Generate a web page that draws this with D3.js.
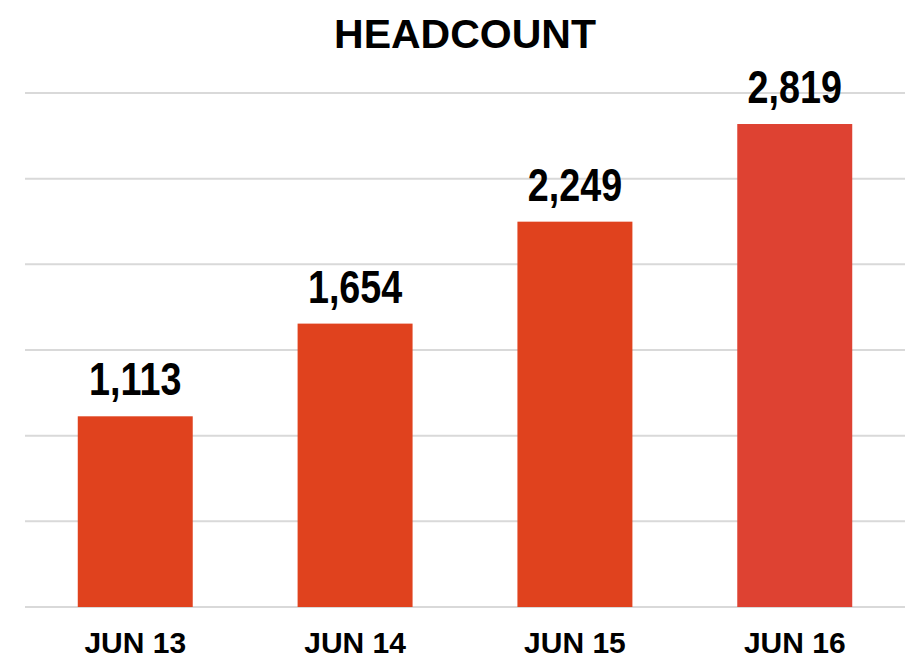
<!DOCTYPE html>
<html>
<head>
<meta charset="utf-8">
<script src="https://cdn.jsdelivr.net/npm/d3@7"></script>
<style>
  body { margin: 0; background: #fff; }
</style>
</head>
<body>
<div id="chart"></div>
<script>
const MARGIN = { LEFT: 25, RIGHT: 10, TOP: 93, BOTTOM: 52 };
const WIDTH = 915;
const HEIGHT = 659;

const days = ["JUN 13", "JUN 14", "JUN 15", "JUN 16"];
const headcount = [1113, 1654, 2249, 2819];
const barColors = ["#e0421e", "#e0421e", "#e0421e", "#de4232"];
const gridTicks = [0, 500, 1000, 1500, 2000, 2500, 3000];

const svg = d3.select("#chart")
    .append("svg")
    .attr("width", WIDTH)
    .attr("height", HEIGHT);

const x = d3.scaleBand()
    .domain(days)
    .range([MARGIN.LEFT, WIDTH - MARGIN.RIGHT])
    .paddingInner(0.477)
    .paddingOuter(0.24);

const y = d3.scaleLinear()
    .domain([0, 3000])
    .range([HEIGHT - MARGIN.BOTTOM, MARGIN.TOP]);

// grid lines
svg.append("g")
    .selectAll("line")
    .data(gridTicks)
    .enter()
    .append("line")
    .attr("x1", MARGIN.LEFT)
    .attr("x2", WIDTH - MARGIN.RIGHT)
    .attr("y1", d => y(d))
    .attr("y2", d => y(d))
    .attr("stroke", "#d9d9d9")
    .attr("stroke-width", 2);

// bars
svg.append("g")
    .selectAll("rect")
    .data(days)
    .enter()
    .append("rect")
    .attr("x", d => x(d))
    .attr("width", x.bandwidth())
    .attr("y", (d, i) => y(headcount[i]))
    .attr("height", (d, i) => y(0) - y(headcount[i]))
    .attr("fill", (d, i) => barColors[i]);

// value labels (condensed look: no narrow font installed, so squeeze it)
svg.append("g")
    .selectAll("text")
    .data(days)
    .enter()
    .append("text")
    .attr("transform", (d, i) =>
        `translate(${x(d) + x.bandwidth() / 2}, ${y(headcount[i]) - 21}) scale(0.82, 1)`)
    .attr("text-anchor", "middle")
    .style("font-family", "'Liberation Sans', Arial, sans-serif")
    .style("font-weight", "bold")
    .style("font-size", "46px")
    .attr("fill", "#000")
    .text((d, i) => d3.format(",")(headcount[i]));

// x axis
const xAxis = svg.append("g")
    .attr("transform", `translate(0, ${HEIGHT - MARGIN.BOTTOM})`)
    .call(d3.axisBottom(x).tickSize(0).tickPadding(25));
xAxis.select(".domain").remove();
xAxis.selectAll("text")
    .style("font-family", "'Liberation Sans', Arial, sans-serif")
    .style("font-weight", "bold")
    .style("font-size", "30px")
    .attr("fill", "#000");

// title
svg.append("text")
    .attr("x", 465)
    .attr("y", 48)
    .attr("text-anchor", "middle")
    .style("font-family", "'Liberation Sans', Arial, sans-serif")
    .style("font-weight", "bold")
    .style("font-size", "41px")
    .attr("fill", "#000")
    .text("HEADCOUNT");
</script>
</body>
</html>
